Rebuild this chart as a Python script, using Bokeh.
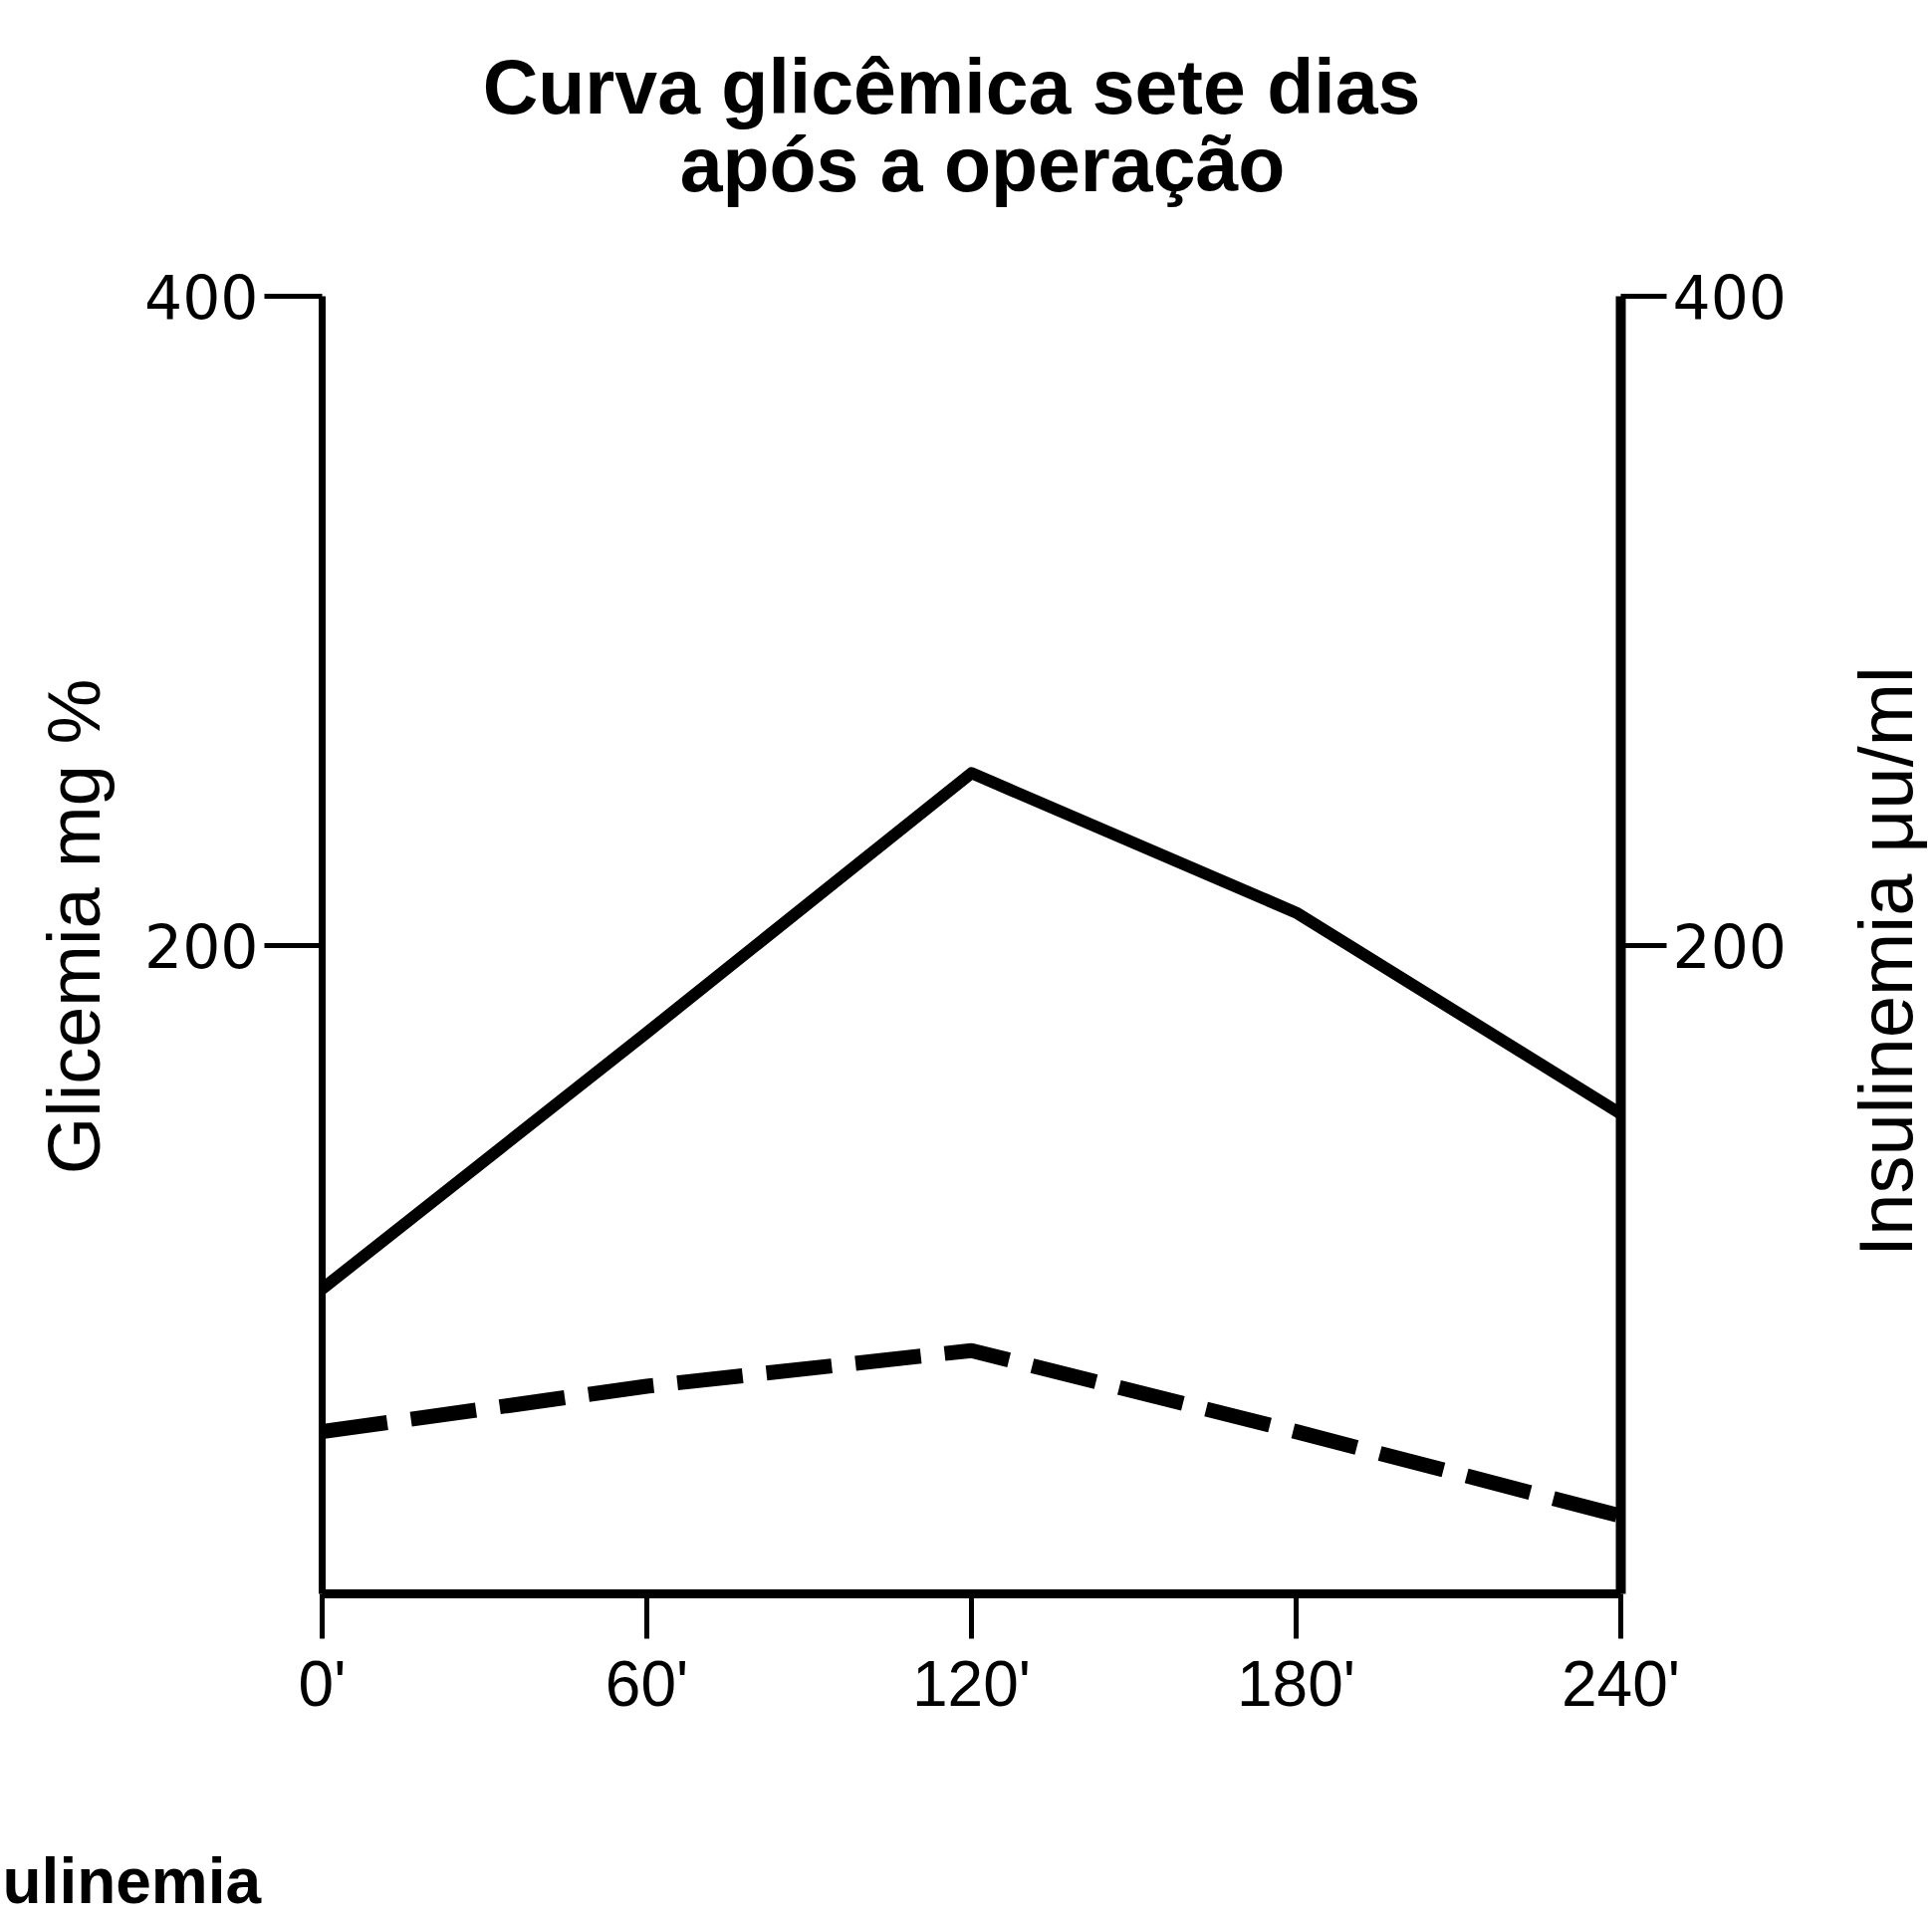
import math
from bokeh.plotting import figure
from bokeh.models import Range1d, LinearAxis, FixedTicker, Label
from bokeh.embed import file_html
from bokeh.resources import INLINE

# ---- data ----
minutes = [0, 60, 120, 180, 240]
glicemia = [94, 173, 253, 210, 148]          # solid line, mg %
insulinemia = [50, 64, 75, 50, 24]           # dashed line, μu/ml
x_tick_labels = ["0'", "60'", "120'", "180'", "240'"]
y_ticks = [200, 400]

title_line1 = "Curva glicêmica sete dias"
title_line2 = "após a operação"
left_label = "Glicemia mg %"
right_label = "Insulinemia μu/ml"
fragment = "ulinemia"

# ---- layout (canvas pixels) ----
W, H = 1940, 1925
BL, BR, BT, BB = 323, 313, 297, 325
FW, FH = W - BL - BR, H - BT - BB
X0, X1, Y0, Y1 = 0, 240, 0, 400


def px_x(cx):
    return X0 + (cx - BL) / FW * (X1 - X0)


def px_y(cy):
    return Y0 + (BT + FH - cy) / FH * (Y1 - Y0)


p = figure(width=W, height=H, x_range=Range1d(X0, X1), y_range=Range1d(Y0, Y1),
           output_backend="svg", toolbar_location=None,
           min_border_left=BL, min_border_right=BR, min_border_top=BT, min_border_bottom=BB)
p.outline_line_color = None
p.grid.visible = False
p.background_fill_color = "white"
p.border_fill_color = "white"

# title, two centred lines (anchor = middle of the text box)
for txt, cx, cy in [(title_line1, 955, 86), (title_line2, 986, 164)]:
    p.add_layout(Label(x=px_x(cx), y=px_y(cy), text=txt, text_align="center",
                       text_baseline="middle", text_font="Liberation Sans",
                       text_font_style="bold", text_font_size="77px",
                       text_color="black"), "above")

# left axis
ly = p.yaxis[0]
ly.ticker = FixedTicker(ticks=y_ticks)
ly.major_tick_out = 58
ly.major_tick_in = 0
ly.major_tick_line_width = 5
ly.major_tick_line_color = "black"
ly.minor_tick_line_color = None
ly.axis_line_width = 7
ly.axis_line_color = "black"
ly.major_label_text_font = "DejaVu Sans"
ly.major_label_text_font_size = "60px"
ly.major_label_text_color = "black"
ly.major_label_standoff = 6

# right axis
ry = LinearAxis(ticker=FixedTicker(ticks=y_ticks))
ry.major_tick_out = 46
ry.major_tick_in = 0
ry.major_tick_line_width = 5
ry.major_tick_line_color = "black"
ry.minor_tick_line_color = None
ry.axis_line_width = 10
ry.axis_line_color = "black"
ry.major_label_text_font = "DejaVu Sans"
ry.major_label_text_font_size = "60px"
ry.major_label_text_color = "black"
ry.major_label_standoff = 6
p.add_layout(ry, "right")

# axis titles, both reading bottom to top
p.add_layout(Label(x=px_x(74), y=px_y(930), text=left_label, angle=math.pi / 2,
                   text_align="center", text_baseline="middle",
                   text_font="Liberation Sans", text_font_size="74px",
                   text_color="black"), "left")
p.add_layout(Label(x=px_x(1893), y=px_y(965), text=right_label, angle=math.pi / 2,
                   text_align="center", text_baseline="middle",
                   text_font="Liberation Sans", text_font_size="76px",
                   text_color="black"), "right")

# bottom axis
bx = p.xaxis[0]
bx.ticker = FixedTicker(ticks=minutes)
bx.major_label_overrides = {m: lab for m, lab in zip(minutes, x_tick_labels)}
bx.major_tick_out = 45
bx.major_tick_in = 0
bx.major_tick_line_width = 5
bx.major_tick_line_color = "black"
bx.minor_tick_line_color = None
bx.axis_line_width = 9
bx.axis_line_color = "black"
bx.major_label_text_font = "Liberation Sans"
bx.major_label_text_font_size = "64px"
bx.major_label_text_color = "black"
bx.major_label_standoff = 9

# cut-off caption fragment at the bottom left
p.add_layout(Label(x=px_x(2), y=px_y(1888), text=fragment, text_align="left",
                   text_baseline="middle", text_font="Liberation Sans",
                   text_font_style="bold", text_font_size="64px",
                   text_color="black"), "below")

# data lines
p.line(minutes, glicemia, line_width=12, line_color="black", line_join="round")
p.line(minutes, insulinemia, line_width=15, line_color="black", line_dash="66 24")

open("out.html", "w").write(file_html(p, INLINE))
